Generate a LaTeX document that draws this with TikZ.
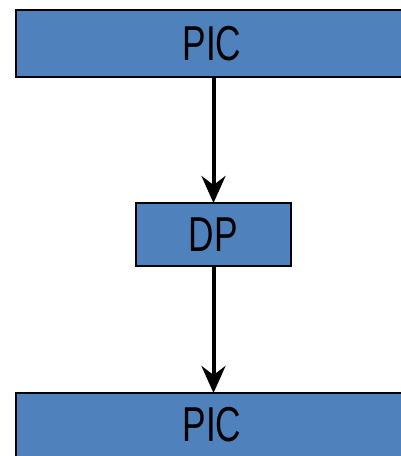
\documentclass[tikz,border=0pt]{standalone}
\usepackage{fontspec}
\setmainfont[FakeStretch=0.72]{Liberation Sans}
\usetikzlibrary{arrows.meta}
\definecolor{boxblue}{HTML}{4F81BD}
\begin{document}
\begin{tikzpicture}[x=1pt,y=-1pt,
  blk/.style={draw=black,line width=1.8pt,fill=boxblue,inner sep=0pt,outer sep=0pt,font=\fontsize{49}{49}\selectfont},
  lbl/.style={inner sep=0pt,font=\fontsize{49}{49}\selectfont},
  conn/.style={line width=4pt,-{Stealth[length=27pt,width=24pt,inset=9pt]}}]
\useasboundingbox (0,0) rectangle (401,456);
\clip (0,0) rectangle (401,456);
\node[blk,minimum width=400pt,minimum height=67pt,anchor=north west] (top) at (16,10) {};
\node[lbl] (toplbl) at (212,43.5) {PIC};
\node[blk,minimum width=155pt,minimum height=63pt,anchor=north west] (dp) at (136,203) {DP};
\node[blk,minimum width=400pt,minimum height=80pt,anchor=north west] (bot) at (16,393) {};
\node[lbl] (botlbl) at (212,425) {PIC};
\draw[conn] (top.south -| dp.north) -- (dp.north);
\draw[conn] (dp.south) -- (dp.south |- bot.north);
\end{tikzpicture}
\end{document}
